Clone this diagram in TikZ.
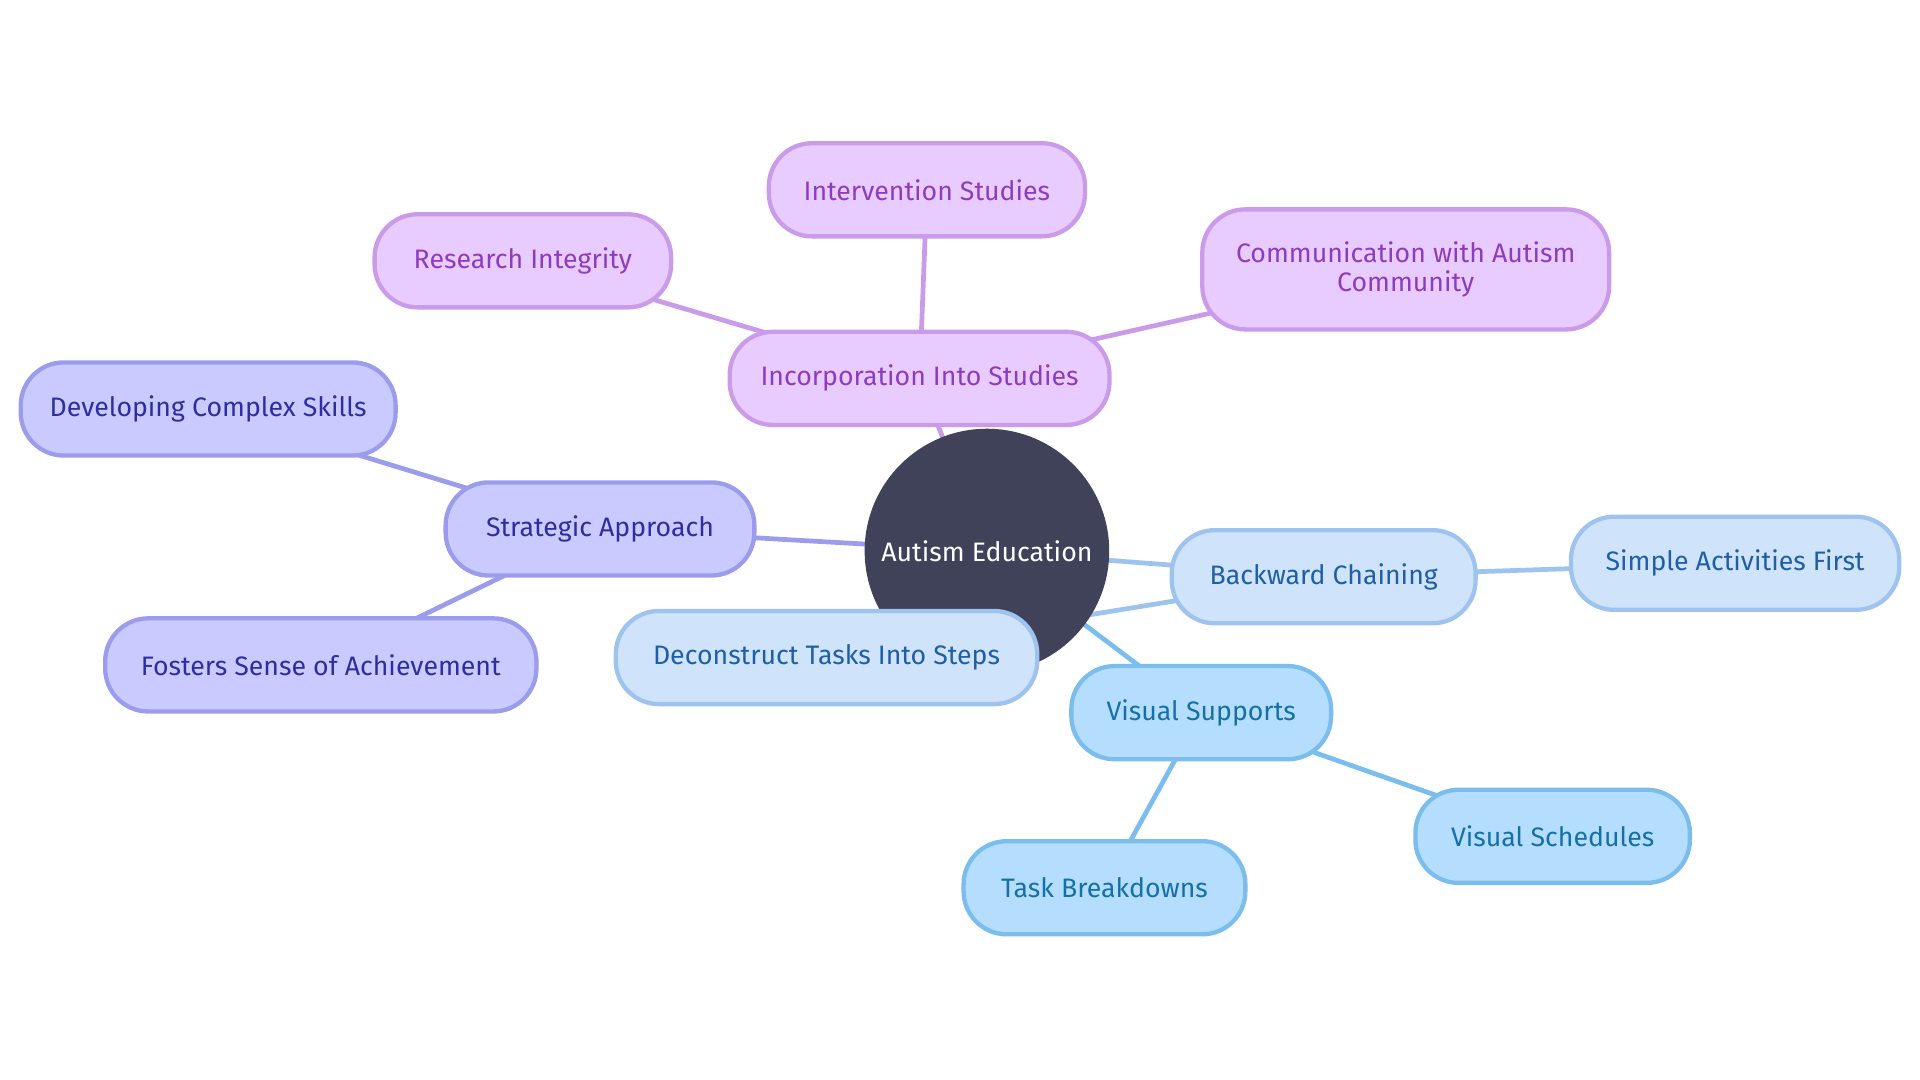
\documentclass[tikz,border=0pt]{standalone}
\usepackage{fontspec}
\setmainfont{Fira Sans}
\usetikzlibrary{backgrounds}
\definecolor{hubfill}{HTML}{404259}
\definecolor{pinkfill}{HTML}{E9CCFF}
\definecolor{pinkline}{HTML}{C99BE8}
\definecolor{pinktext}{HTML}{8E3CBF}
\definecolor{lilacfill}{HTML}{C9CAFF}
\definecolor{lilacline}{HTML}{9C9CEC}
\definecolor{lilactext}{HTML}{2E2EA0}
\definecolor{palefill}{HTML}{CFE3FB}
\definecolor{paleline}{HTML}{9DC3EE}
\definecolor{paletext}{HTML}{1F5FA8}
\definecolor{skyfill}{HTML}{B5DEFE}
\definecolor{skyline}{HTML}{7BBDEC}
\definecolor{skytext}{HTML}{1670A8}
\tikzset{
  topic/.style={draw,line width=1pt,rounded corners=10pt,minimum height=0.76cm,
    align=center,font=\fontsize{6.2}{6.6}\selectfont,inner sep=2pt},
  pink/.style={topic,fill=pinkfill,draw=pinkline,text=pinktext},
  lilac/.style={topic,fill=lilacfill,draw=lilacline,text=lilactext},
  pale/.style={topic,fill=palefill,draw=paleline,text=paletext},
  sky/.style={topic,fill=skyfill,draw=skyline,text=skytext},
  link/.style={line width=1.1pt}
}
\begin{document}
\begin{tikzpicture}[x=0.01cm,y=-0.01cm]
  \useasboundingbox (0,0) rectangle (1568,882);
  % hub
  \node[circle,fill=hubfill,text=white,minimum size=1.96cm,font=\fontsize{6.2}{6.6}\selectfont] (hub) at (806,450) {Autism Education};
  % pink branch
  \node[pink,minimum width=3.1cm] (incorp) at (751,309) {Incorporation Into Studies};
  \node[pink,minimum width=2.42cm] (integrity) at (427,213) {Research Integrity};
  \node[pink,minimum width=2.58cm] (intervention) at (757,155) {Intervention Studies};
  \node[pink,minimum width=3.32cm,minimum height=0.98cm] (community) at (1148,220) {Communication with Autism\\Community};
  % lilac branch
  \node[lilac,minimum width=2.52cm] (strategic) at (490,432) {Strategic Approach};
  \node[lilac,minimum width=3.06cm] (complex) at (170,334) {Developing Complex Skills};
  \node[lilac,minimum width=3.52cm] (achieve) at (262,543) {Fosters Sense of Achievement};
  % pale branch
  \node[pale,minimum width=2.48cm] (backward) at (1081,471) {Backward Chaining};
  \node[pale,minimum width=2.68cm] (simple) at (1417,460) {Simple Activities First};
  \node[pale,minimum width=3.44cm] (deconstruct) at (675,537) {Deconstruct Tasks Into Steps};
  % sky branch
  \node[sky,minimum width=2.12cm] (visual) at (981,582) {Visual Supports};
  \node[sky,minimum width=2.3cm] (task) at (902,725) {Task Breakdowns};
  \node[sky,minimum width=2.24cm] (schedules) at (1268,683) {Visual Schedules};
  % links
  \begin{scope}[on background layer]
    \draw[link,pinkline] (hub.center) -- (incorp.center);
    \draw[link,pinkline] (incorp.center) -- (integrity.center);
    \draw[link,pinkline] (incorp.center) -- (intervention.center);
    \draw[link,pinkline] (incorp.center) -- (community.center);
    \draw[link,lilacline] (hub.center) -- (strategic.center);
    \draw[link,lilacline] (strategic.center) -- (complex.center);
    \draw[link,lilacline] (strategic.center) -- (achieve.center);
    \draw[link,paleline] (hub.center) -- (backward.center);
    \draw[link,paleline] (backward.center) -- (simple.center);
    \draw[link,paleline] (backward.center) -- (deconstruct.center);
    \draw[link,skyline] (hub.center) -- (visual.center);
    \draw[link,skyline] (visual.center) -- (task.center);
    \draw[link,skyline] (visual.center) -- (schedules.center);
  \end{scope}
\end{tikzpicture}
\end{document}
